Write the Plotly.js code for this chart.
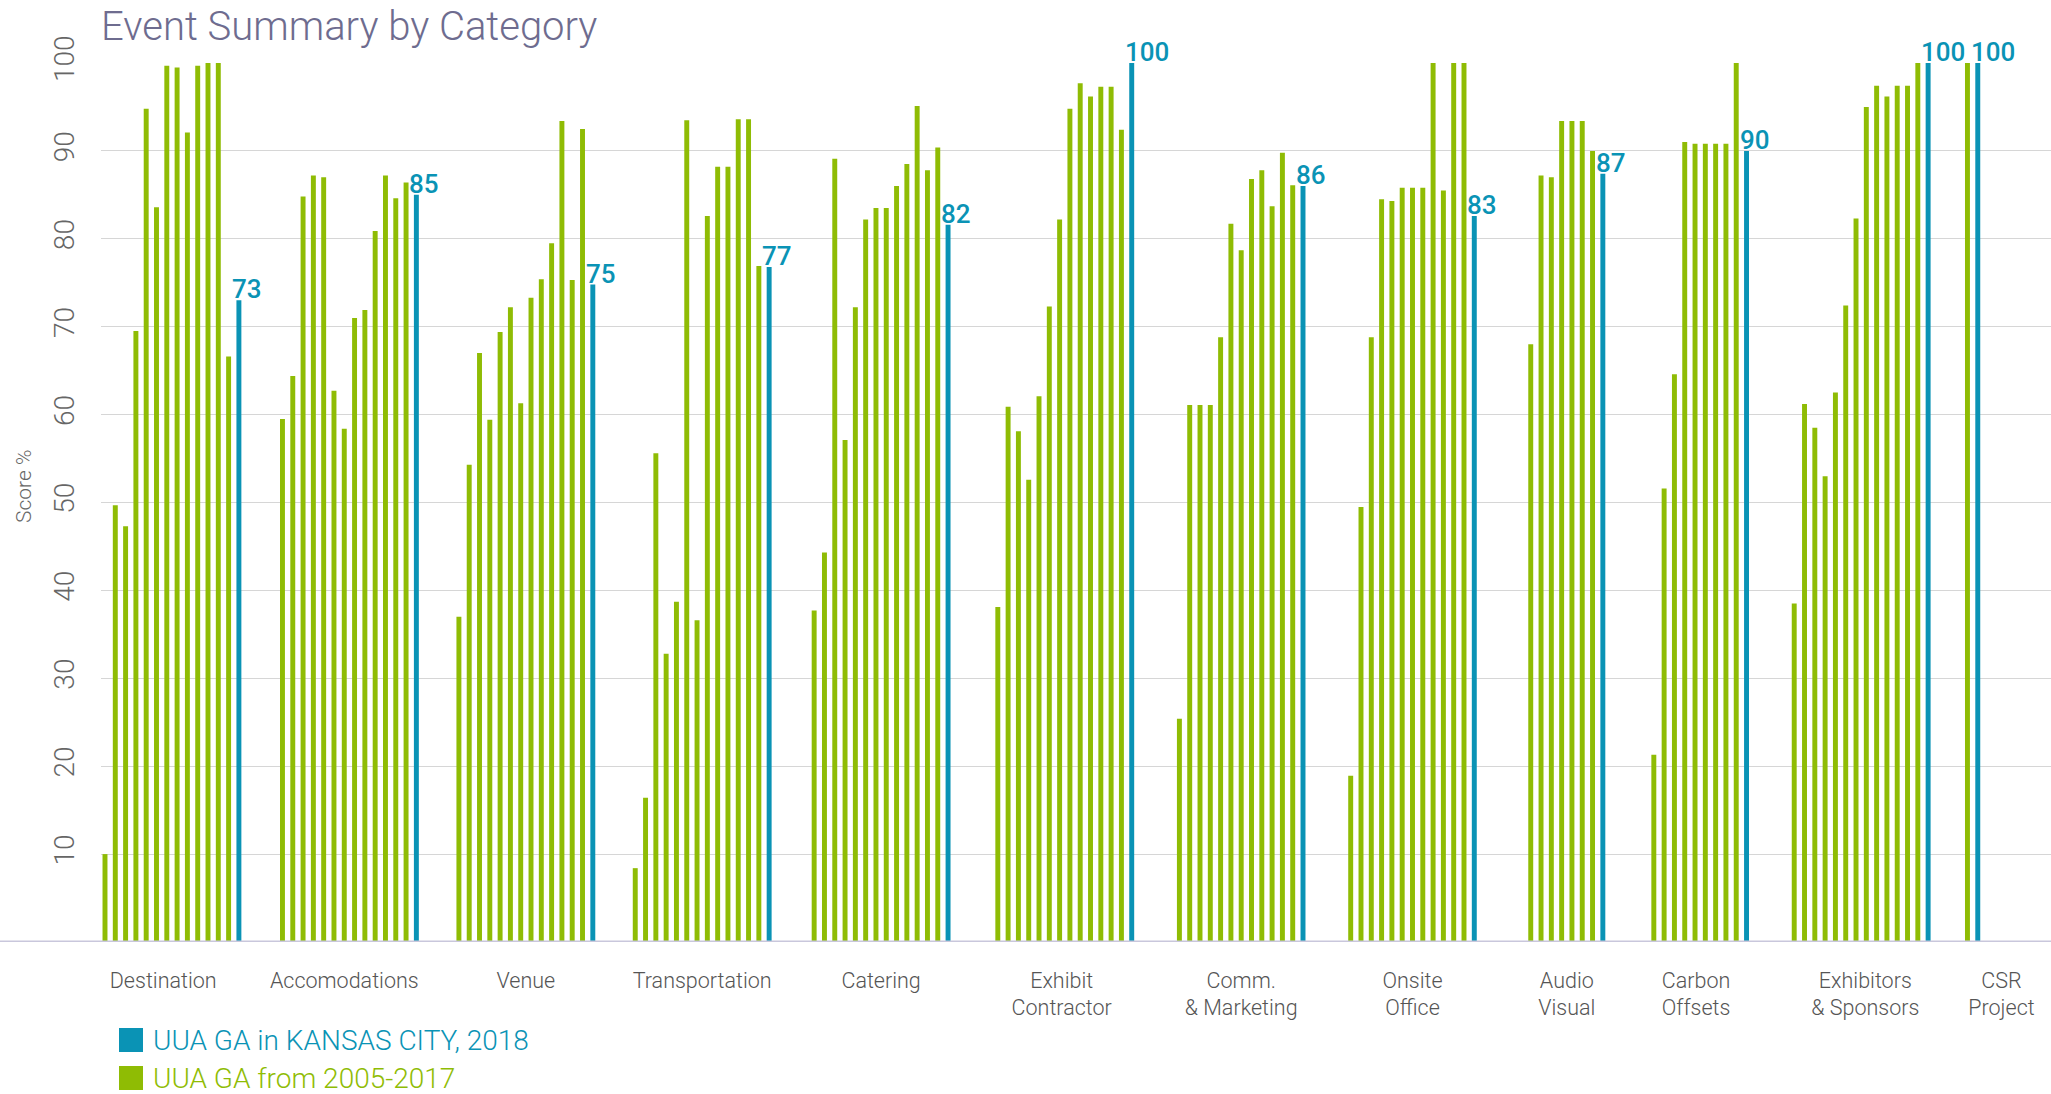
<!DOCTYPE html>
<html>
<head>
<meta charset="utf-8">
<script src="https://cdn.plot.ly/plotly-3.0.1.min.js"></script>
<style>
html,body{margin:0;padding:0;background:#ffffff;}
#chart{width:2051px;height:1094px;}
</style>
</head>
<body>
<div id="chart"></div>
<script>
// ---------------- DATA ----------------
const categories = ['Destination', 'Accomodations', 'Venue', 'Transportation', 'Catering',
  'Exhibit<br>Contractor', 'Comm.<br>& Marketing', 'Onsite<br>Office', 'Audio<br>Visual',
  'Carbon<br>Offsets', 'Exhibitors<br>& Sponsors', 'CSR<br>Project'];

const seriesPastName = 'UUA GA from 2005-2017';
const seriesCurrentName = 'UUA GA in KANSAS CITY, 2018';

const pastDestination = [10, 49.7, 47.3, 69.5, 94.8, 83.6, 99.7, 99.5, 92.1, 99.7, 100, 100, 66.6];
const pastAccomodations = [59.5, 64.4, 84.8, 87.2, 87.0, 62.7, 58.4, 71.0, 71.9, 80.9, 87.2, 84.6, 86.4];
const pastVenue = [37.0, 54.3, 67.0, 59.4, 69.4, 72.2, 61.3, 73.3, 75.4, 79.5, 93.4, 75.3, 92.5];
const pastTransportation = [8.4, 16.4, 55.6, 32.8, 38.7, 93.5, 36.6, 82.6, 88.2, 88.2, 93.6, 93.6, 76.9];
const pastCatering = [37.7, 44.3, 89.1, 57.1, 72.2, 82.2, 83.5, 83.5, 86.0, 88.5, 95.1, 87.8, 90.4];
const pastExhibitContractor = [38.1, 60.9, 58.1, 52.6, 62.1, 72.3, 82.2, 94.8, 97.7, 96.2, 97.3, 97.3, 92.4];
const pastCommMarketing = [25.4, 61.1, 61.1, 61.1, 68.8, 81.7, 78.7, 86.8, 87.8, 83.7, 89.8, 86.1];
const pastOnsiteOffice = [18.9, 49.5, 68.8, 84.5, 84.3, 85.8, 85.8, 85.8, 100, 85.5, 100, 100];
const pastAudioVisual = [68.0, 87.2, 87.0, 93.4, 93.4, 93.4, 90.0];
const pastCarbonOffsets = [21.3, 51.6, 64.6, 91.0, 90.8, 90.8, 90.8, 90.8, 100];
const pastExhibitorsSponsors = [38.5, 61.2, 58.5, 53.0, 62.5, 72.4, 82.3, 95.0, 97.4, 96.2, 97.4, 97.4, 100];
const pastCSRProject = [100];

const scores2018 = [73, 85, 74.8, 76.8, 81.6, 100, 86, 82.6, 87.4, 90, 100, 100];

const yTickValues = [10, 20, 30, 40, 50, 60, 70, 80, 90, 100];

// ---------------- STYLE / LAYOUT CONSTANTS ----------------
const GREEN = '#8fbc04';
const BLUE = '#0a93b5';
// spacing (in bar slots) between the last bar of a group and the first bar of the next group
const GROUP_GAPS = [4.23, 4.13, 4.12, 4.37, 4.83, 4.63, 4.63, 5.48, 4.95, 4.63, 3.82];
// small horizontal nudges (in slots) of the category labels relative to their group centre
const LABEL_NUDGE = [-0.85, -0.5, 0, 0, 0, -0.3, 0, 0, 0, -0.4, 0.4, 2.8];
const BAR_WIDTH = 0.48;
const FONT = 'Roboto, "Liberation Sans", Arial, sans-serif';

const pastGroups = [pastDestination, pastAccomodations, pastVenue, pastTransportation, pastCatering,
  pastExhibitContractor, pastCommMarketing, pastOnsiteOffice, pastAudioVisual, pastCarbonOffsets,
  pastExhibitorsSponsors, pastCSRProject];

// Build slot positions from group sizes
const greenX = [], greenY = [], blueX = [], blueY = [], centers = [];
let start = 0;
pastGroups.forEach((vals, g) => {
  vals.forEach((v, i) => { greenX.push(start + i); greenY.push(v); });
  const bx = start + vals.length;
  blueX.push(bx); blueY.push(scores2018[g]);
  centers.push(start + vals.length / 2 + LABEL_NUDGE[g]);
  start = bx + (GROUP_GAPS[g] || 0);
});

const traces = [
  {type: 'bar', name: seriesPastName, x: greenX, y: greenY, width: BAR_WIDTH,
   marker: {color: GREEN, line: {width: 0}}, showlegend: false, hoverinfo: 'y+name'},
  {type: 'bar', name: seriesCurrentName, x: blueX, y: blueY, width: BAR_WIDTH,
   marker: {color: BLUE, line: {width: 0}}, showlegend: false, hoverinfo: 'y+name'}
];

const W = 2051, H = 1094, ML = 101, MR = 0, MT = 63, MB = 152;
const PW = W - ML - MR, PH = H - MT - MB;
const px = v => (v - ML) / PW;
const py = v => (H - MB - v) / PH;

const annotations = blueX.map((x, i) => ({
  x: x, y: blueY[i], xref: 'x', yref: 'y',
  text: String(Math.round(blueY[i])),
  showarrow: false, xanchor: 'left', yanchor: 'bottom',
  xshift: -9, yshift: -6,
  font: {family: FONT, size: 26, color: BLUE, weight: 500}
}));

// y-axis title
annotations.push({xref: 'paper', yref: 'paper', x: px(24), y: py(487), xanchor: 'center', yanchor: 'middle',
  showarrow: false, text: 'Score %', textangle: -90,
  font: {family: FONT, size: 21, color: '#666666', weight: 300}});

// legend (drawn manually to get large swatches)
const legendItems = [
  {name: seriesCurrentName, color: BLUE, cy: 1040},
  {name: seriesPastName, color: GREEN, cy: 1078}
];
const shapes = [
  {type: 'line', xref: 'paper', yref: 'y', x0: px(0), x1: 1, y0: 0, y1: 0,
   line: {color: '#c9c7dc', width: 3}, layer: 'above'}
];
legendItems.forEach(it => {
  shapes.push({type: 'rect', xref: 'paper', yref: 'paper',
    x0: px(119), x1: px(143), y0: py(it.cy + 12), y1: py(it.cy - 12),
    fillcolor: it.color, line: {width: 0}});
  annotations.push({xref: 'paper', yref: 'paper', x: px(152), y: py(it.cy),
    xanchor: 'left', yanchor: 'middle', showarrow: false, text: it.name,
    height: 28, valign: 'middle', borderpad: 0,
    font: {family: FONT, size: 28, color: it.color, weight: 300}});
});

const layout = {
  width: W, height: H,
  margin: {l: ML, r: MR, t: MT, b: MB, pad: 0},
  paper_bgcolor: '#ffffff', plot_bgcolor: '#ffffff',
  barmode: 'overlay',
  showlegend: false,
  font: {family: FONT, color: '#555555'},
  title: {text: 'Event Summary by Category', xref: 'container', yref: 'container',
    x: 101 / W, xanchor: 'left', y: 1 - 26 / H, yanchor: 'middle',
    font: {family: FONT, size: 40, color: '#6e6c8f', weight: 300}},
  xaxis: {range: [-0.388, 188.93], tickmode: 'array', tickvals: centers, ticktext: categories,
    tickfont: {family: FONT, size: 21.5, color: '#555555', weight: 300},
    showgrid: false, zeroline: false, showline: false, ticks: '', ticklabelstandoff: 23,
    fixedrange: true},
  yaxis: {range: [0, 100], tickmode: 'array', tickvals: yTickValues, tickangle: -90,
    tickfont: {family: FONT, size: 28, color: '#666666', weight: 300},
    showgrid: true, gridcolor: '#d6d6d6', gridwidth: 1.2, zeroline: false, showline: false,
    ticks: '', ticklabelstandoff: 20, fixedrange: true},
  shapes: shapes,
  annotations: annotations
};

Plotly.newPlot('chart', traces, layout, {displayModeBar: false, responsive: false});
</script>
</body>
</html>
